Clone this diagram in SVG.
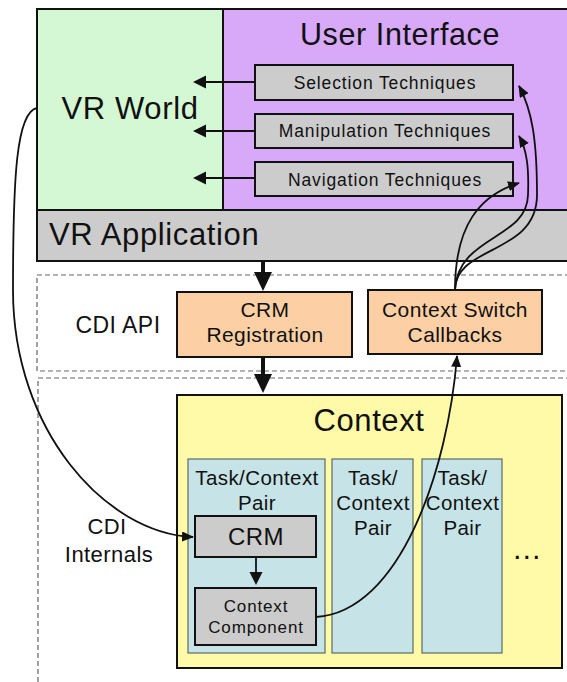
<svg xmlns="http://www.w3.org/2000/svg" width="567" height="682" viewBox="0 0 567 682">
  <style>
    text { font-family: "Liberation Sans", Arial, sans-serif; fill: #111; text-anchor: middle; letter-spacing: 0.02em; }
    text.small { letter-spacing: 0.05em; }
    .box { stroke: #111; stroke-width: 2; }
    .tech { fill: #cccccc; stroke: #111; stroke-width: 2; }
    .peach { fill: #fcd0a4; stroke: #111; stroke-width: 2; }
    .pair { fill: #c6e4e7; stroke: #5a6a6a; stroke-width: 1.2; }
    .dash { fill: none; stroke: #666; stroke-width: 1.2; stroke-dasharray: 5 3; }
    .wire { fill: none; stroke: #111; stroke-width: 1.8; }
    .thick { fill: none; stroke: #111; stroke-width: 4; }
  </style>
  <defs>
    <marker id="headThin" markerUnits="userSpaceOnUse" markerWidth="14" markerHeight="14" refX="1" refY="6.5" orient="auto">
      <path d="M0,0 L13,6.5 L0,13 z" fill="#111"/>
    </marker>
    <marker id="headThick" markerUnits="userSpaceOnUse" markerWidth="20" markerHeight="20" refX="1" refY="9" orient="auto">
      <path d="M0,0 L19,9 L0,18 z" fill="#111"/>
    </marker>
    <marker id="headCurve" markerUnits="userSpaceOnUse" markerWidth="14" markerHeight="14" refX="11" refY="5" orient="auto">
      <path d="M0,0 L12,5 L0,10 z" fill="#111"/>
    </marker>
  </defs>

  <!-- layer regions -->
  <rect x="37" y="275" width="540" height="96" class="dash"/>
  <path d="M38,682 L38,378 L577,378" class="dash"/>

  <g id="vr-world">
    <rect x="37" y="9" width="186" height="201" fill="#d4f8d4" class="box"/>
    <text x="130" y="119" font-size="31">VR World</text>
  </g>

  <g id="user-interface">
    <rect x="223" y="9" width="350" height="201" fill="#d7a9f8" class="box"/>
    <text x="400" y="45" font-size="30.5">User Interface</text>
  </g>

  <g id="vr-application">
    <rect x="37" y="210" width="536" height="51" fill="#cccccc" class="box"/>
    <text x="49" y="245" font-size="31" style="text-anchor:start">VR Application</text>
  </g>

  <g id="selection-techniques">
    <rect x="255" y="65" width="258" height="35" class="tech"/>
    <text class="small" x="385" y="89" font-size="17.5">Selection Techniques</text>
  </g>
  <g id="manipulation-techniques">
    <rect x="255" y="114" width="258" height="34" class="tech"/>
    <text class="small" x="385" y="137" font-size="17.5">Manipulation Techniques</text>
  </g>
  <g id="navigation-techniques">
    <rect x="255" y="162" width="258" height="34" class="tech"/>
    <text class="small" x="385" y="186" font-size="17.5">Navigation Techniques</text>
  </g>

  <g id="cdi-api-label">
    <text x="118" y="333" font-size="23">CDI API</text>
  </g>

  <g id="crm-registration">
    <rect x="177" y="292" width="175" height="65" class="peach"/>
    <text x="265" y="317" font-size="21">CRM</text>
    <text x="265" y="342" font-size="21">Registration</text>
  </g>

  <g id="context-switch-callbacks">
    <rect x="368" y="290" width="174" height="64" class="peach"/>
    <text x="455" y="317" font-size="21">Context Switch</text>
    <text x="455" y="342" font-size="21">Callbacks</text>
  </g>

  <g id="cdi-internals-label">
    <text x="107" y="534" font-size="22">CDI</text>
    <text x="109" y="562" font-size="22">Internals</text>
  </g>

  <g id="context">
    <rect x="177" y="395" width="385" height="273" fill="#fefaa8" class="box"/>
    <text x="369" y="431" font-size="31">Context</text>
    <text x="527" y="559" font-size="30">…</text>
  </g>

  <g id="pair-1">
    <rect x="188" y="459" width="137" height="194" class="pair"/>
    <text x="257" y="485" font-size="20.5">Task/Context</text>
    <text x="257" y="510" font-size="20.5">Pair</text>
  </g>
  <g id="pair-2">
    <rect x="332" y="459" width="81" height="194" class="pair"/>
    <text x="373" y="485" font-size="20.5">Task/</text>
    <text x="373" y="510" font-size="20.5">Context</text>
    <text x="373" y="535" font-size="20.5">Pair</text>
  </g>
  <g id="pair-3">
    <rect x="422" y="459" width="80" height="194" class="pair"/>
    <text x="462.5" y="485" font-size="20.5">Task/</text>
    <text x="462.5" y="510" font-size="20.5">Context</text>
    <text x="462.5" y="535" font-size="20.5">Pair</text>
  </g>

  <g id="crm">
    <rect x="195" y="516" width="121" height="41" class="tech"/>
    <text x="256" y="545" font-size="24">CRM</text>
  </g>
  <g id="context-component">
    <rect x="195" y="588" width="121" height="57" class="tech"/>
    <text class="small" x="256" y="612" font-size="17">Context</text>
    <text class="small" x="256" y="633" font-size="17">Component</text>
  </g>

  <g id="connectors">
    <!-- techniques act on the world -->
    <line x1="255" y1="82" x2="205" y2="82" class="wire" marker-end="url(#headThin)"/>
    <line x1="255" y1="131" x2="205" y2="131" class="wire" marker-end="url(#headThin)"/>
    <line x1="255" y1="178" x2="205" y2="178" class="wire" marker-end="url(#headThin)"/>
    <!-- registration flow -->
    <line x1="263" y1="261" x2="263" y2="273" class="thick" marker-end="url(#headThick)"/>
    <line x1="263" y1="357" x2="263" y2="375" class="thick" marker-end="url(#headThick)"/>
    <line x1="256" y1="557" x2="256" y2="573" class="wire" marker-end="url(#headThin)"/>
    <!-- world to CRM -->
    <path d="M37,108 C 16,112 13,180 13,290 C 13,430 105,533 193,537" class="wire" marker-end="url(#headCurve)"/>
    <!-- context component to callbacks -->
    <path d="M316,617 C 400,612 448,470 457,356" class="wire" marker-end="url(#headCurve)"/>
    <!-- callbacks to techniques -->
    <path d="M455,290 C 455,245 537,255 537,195 C 537,140 532,110 519,86" class="wire" marker-end="url(#headCurve)"/>
    <path d="M455,290 C 458,235 527,240 528,195 C 529,168 527,150 519,136" class="wire" marker-end="url(#headCurve)"/>
    <path d="M455,290 C 455,225 480,195 519,183" class="wire" marker-end="url(#headCurve)"/>
  </g>
</svg>
